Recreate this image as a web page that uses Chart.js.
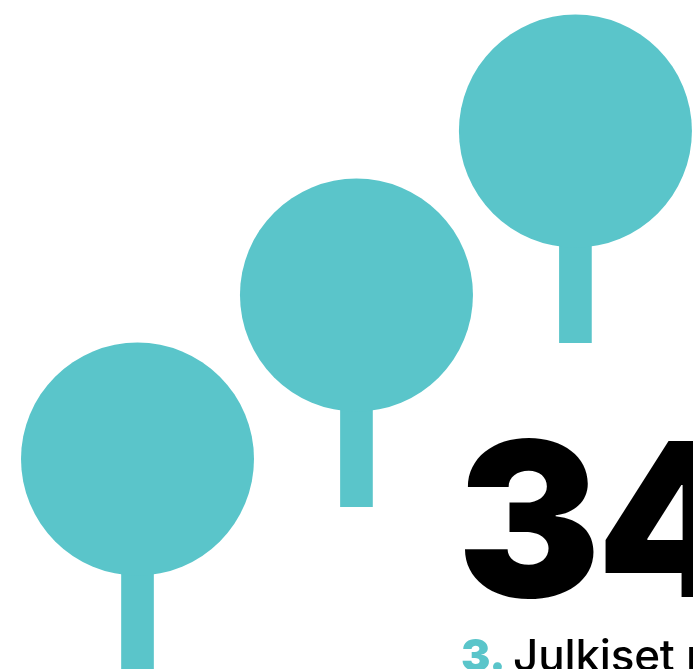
<!DOCTYPE html>
<html lang="fi">
<head>
<meta charset="utf-8">
<title>34 – Julkiset palvelut</title>
<script src="https://cdn.jsdelivr.net/npm/chart.js@4/dist/chart.umd.min.js"></script>
<style>
    html, body { margin: 0; padding: 0; background: #ffffff; overflow: hidden; }
    #wrap { position: relative; width: 693px; height: 669px; overflow: hidden; }
    #chartBox { position: absolute; left: 0; top: 0; width: 693px; height: 669px; }
    .big {
        position: absolute; left: 457px; top: 412px;
        font-family: Inter, "Noto Sans", sans-serif; font-weight: 900;
        font-size: 215px; line-height: 1; color: #000; white-space: nowrap;
        letter-spacing: -4px;
    }
    .caption {
        position: absolute; left: 461px; top: 633px;
        font-family: Inter, "Noto Sans", sans-serif; font-weight: 500;
        font-size: 44px; line-height: 1; color: #000; white-space: nowrap;
        letter-spacing: -0.2px;
    }
    .caption b { color: #5ac5ca; font-weight: 900; margin-right: -4px; }
</style>
</head>
<body>
<div id="wrap">
    <div id="chartBox"><canvas id="steps"></canvas></div>
    <div class="big">34</div>
    <div class="caption"><b>3.</b> Julkiset palvelut</div>
</div>
<script>
// Step data: three rising lollipops
const stepLabels = ["1", "2", "3"];
const stepX = [1, 2, 3];
const stepLevel = [1, 2, 3];          // circle centres
const stemBottom = [-0.29, 0.71, 1.71]; // where each stem ends

const TEAL = "#5ac5ca";

const circles = stepX.map((x, i) => ({ x: x, y: stepLevel[i] }));
const stems = stepX.map((x, i) => ({ x: x, y: [stemBottom[i], stepLevel[i]] }));

new Chart(document.getElementById("steps"), {
    type: "bar",
    data: {
        labels: stepLabels,
        datasets: [
            {
                type: "scatter",
                label: "Taso",
                data: circles,
                backgroundColor: TEAL,
                borderWidth: 0,
                pointRadius: 116.5,
                pointHoverRadius: 116.5,
                clip: false,
                order: 1
            },
            {
                type: "bar",
                label: "Varsi",
                data: stems,
                backgroundColor: TEAL,
                borderWidth: 0,
                barThickness: 32,
                clip: false,
                order: 2
            }
        ]
    },
    options: {
        responsive: true,
        maintainAspectRatio: false,
        animation: false,
        events: [],
        layout: { padding: 0, autoPadding: false },
        plugins: {
            legend: { display: false },
            tooltip: { enabled: false },
            title: { display: false }
        },
        scales: {
            x: { type: "linear", min: 0.372, max: 3.537, offset: false, display: false },
            y: { min: -0.2805, max: 3.799, display: false }
        }
    }
});
</script>
</body>
</html>
